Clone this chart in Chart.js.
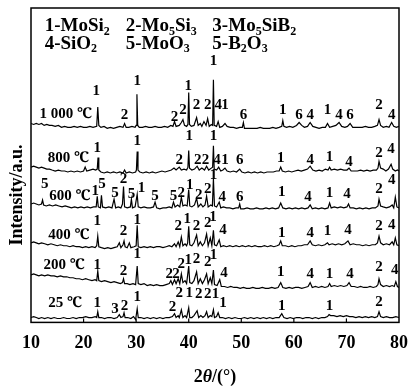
<!DOCTYPE html>
<html>
<head>
<meta charset="utf-8">
<script src="https://cdn.jsdelivr.net/npm/chart.js@4/dist/chart.umd.min.js"></script>
<style>
  html, body { margin: 0; padding: 0; background: #fff; }
  #wrap { width: 418px; height: 389px; }
</style>
</head>
<body>
<div id="wrap"><canvas id="myChart" width="418" height="389"></canvas></div>
<script>
// XRD patterns, intensity in offset a.u. (stacked)
var trace1000 = [[10,205],[10.5,204],[11,205],[11.5,204],[12,205],[12.5,203],[13,204],[13.5,203],[14,203],[14.6,202],[15.2,203],[15.8,201],[16.4,202],[17,201],[17.6,201],[18.2,202],[18.8,201],[19.4,202],[20,201],[20.6,201],[21.2,202],[21.8,201],[22.5,202],[22.7,222],[22.9,203],[23.3,201],[23.9,202],[24.5,200],[25.1,201],[25.7,200],[26.3,201],[26.9,202],[27.5,201],[27.8,205],[28.1,201],[28.6,201],[29.2,202],[29.8,201],[30.0,203],[30.15,235],[30.3,203],[30.6,201],[31.2,201],[31.8,202],[32.4,201],[33,201],[33.6,202],[34.2,201],[34.8,201],[35.4,202],[36,201],[36.6,203],[37,202],[37.3,207],[37.6,202],[38.2,203],[38.6,206],[38.9,209],[39.2,203],[39.6,202],[39.85,204],[40.0,237],[40.15,204],[40.5,202],[41,203],[41.5,211],[41.8,203],[42.2,205],[42.5,202],[42.9,207],[43.3,203],[43.6,210],[43.9,202],[44.3,204],[44.55,203],[44.7,250],[44.85,203],[45.3,202],[45.6,207],[45.9,201],[46.4,202],[46.9,205],[47.3,202],[47.9,201],[48.5,201],[49.1,200],[49.7,201],[50.2,201],[50.4,206],[50.6,200],[51.2,200],[51.8,200],[52.4,200],[53,200],[53.6,201],[54.2,200],[54.8,200],[55.4,200],[56,201],[56.6,200],[57.2,201],[57.7,202],[57.9,208],[58.1,202],[58.6,201],[59.2,202],[59.8,201],[60.5,203],[61,206],[61.5,203],[62,201],[62.6,202],[63.1,206],[63.6,202],[64.2,201],[64.8,200],[65.4,201],[66,201],[66.4,205],[66.8,201],[67.4,202],[68,203],[68.6,206],[69.1,202],[69.7,201],[70.2,202],[70.7,205],[71.2,201],[71.8,201],[72.4,201],[73,201],[73.6,202],[74.2,201],[74.8,201],[75.4,202],[75.9,203],[76.2,209],[76.5,203],[77,201],[77.6,202],[78.1,201],[78.6,206],[79,202],[79.5,201],[80,202]];
var trace800 = [[10,160],[10.5,161],[11,160],[11.5,159],[12,160],[12.5,159],[13,158],[13.5,158],[14,157],[14.6,156],[15.2,157],[15.8,156],[16.4,156],[17,155],[17.6,156],[18.2,155],[18.8,156],[19.4,155],[20,156],[20.3,160],[20.6,156],[21.2,157],[21.8,158],[22.3,157],[22.6,158],[22.75,170],[22.9,157],[23.3,155],[23.9,154],[24.5,155],[25.1,154],[25.7,155],[26.3,154],[26.9,155],[27.5,154],[27.8,157],[28.1,154],[28.7,155],[29.3,154],[29.9,155],[30.05,157],[30.2,176],[30.35,157],[30.7,155],[31.3,154],[31.9,155],[32.5,154],[33.1,155],[33.7,154],[34.3,155],[34.9,156],[35.5,155],[36.1,156],[36.7,157],[37.2,159],[37.6,157],[38.2,160],[38.6,157],[39.1,158],[39.6,157],[39.85,160],[40,177],[40.15,159],[40.6,157],[41.1,158],[41.6,161],[42,157],[42.5,159],[43,157],[43.4,161],[43.8,157],[44.3,159],[44.55,160],[44.7,182],[44.85,158],[45.3,157],[45.7,160],[46.1,156],[46.5,157],[46.9,159],[47.3,156],[47.9,155],[48.5,156],[49.1,155],[49.7,158],[50.1,155],[50.7,154],[51.3,155],[51.9,154],[52.5,155],[53.1,154],[53.7,155],[54.3,154],[54.9,155],[55.5,155],[56.1,155],[56.7,156],[57.2,156],[57.5,160],[57.8,156],[58.4,155],[59,156],[59.6,155],[60.2,156],[60.8,157],[61.4,156],[62,157],[62.6,158],[63.1,161],[63.6,157],[64.2,156],[64.8,157],[65.4,156],[66,158],[66.5,157],[66.8,160],[67.1,157],[67.7,158],[68.3,157],[68.9,158],[69.5,157],[70.1,157],[70.5,159],[70.9,156],[71.5,156],[72.1,156],[72.7,157],[73.3,156],[73.9,157],[74.5,156],[75.1,157],[75.7,157],[76,159],[76.2,166],[76.5,159],[77,158],[77.5,156],[78,158],[78.5,163],[78.8,158],[79.3,156],[79.7,157],[80,156]];
var trace600 = [[10,122],[10.5,123],[11,122],[11.5,121],[12,122],[12.2,126],[12.4,121],[12.9,120],[13.5,121],[14.1,120],[14.7,121],[15.3,120],[15.9,119],[16.5,120],[17.1,119],[17.7,118],[18.3,119],[18.9,118],[19.5,119],[20.1,118],[20.7,119],[21.3,118],[21.9,119],[22.4,119],[22.6,130],[22.8,119],[23.2,118],[23.4,131],[23.6,119],[24.2,118],[24.8,119],[25.4,118],[25.8,127],[26.1,118],[26.6,119],[27.1,118],[27.4,122],[27.6,140],[27.8,119],[28.3,118],[28.9,119],[29.1,127],[29.3,118],[29.8,119],[30.2,132],[30.4,119],[30.9,118],[31.5,119],[32.1,118],[32.7,118],[33.3,119],[33.6,124],[33.9,118],[34.5,117],[35.1,118],[35.7,118],[36.3,119],[36.8,118],[37.1,124],[37.4,119],[37.9,121],[38.3,119],[38.6,129],[38.9,120],[39.3,121],[39.7,120],[40.0,137],[40.2,120],[40.6,119],[41.1,121],[41.5,128],[41.8,119],[42.3,122],[42.7,119],[43.1,121],[43.4,130],[43.7,119],[44.2,121],[44.5,120],[44.7,148],[44.9,120],[45.3,119],[45.8,124],[46.1,118],[46.6,119],[47.2,118],[47.8,118],[48.4,117],[49,118],[49.5,118],[49.7,122],[49.9,117],[50.5,117],[51.1,118],[51.7,117],[52.3,117],[52.9,118],[53.5,117],[54.1,117],[54.7,118],[55.3,117],[55.9,118],[56.5,117],[57.1,118],[57.5,123],[57.9,118],[58.5,117],[59.1,118],[59.7,117],[60.3,118],[60.9,117],[61.5,118],[62.1,117],[62.7,118],[63.1,121],[63.5,117],[64.1,118],[64.7,117],[65.3,118],[65.9,117],[66.5,118],[66.8,123],[67.1,118],[67.7,119],[68.3,118],[68.9,119],[69.5,118],[70.1,119],[70.4,122],[70.7,118],[71.3,118],[71.9,117],[72.5,118],[73.1,117],[73.7,118],[74.3,117],[74.9,118],[75.5,118],[76,120],[76.2,127],[76.5,120],[77,119],[77.6,118],[78.2,119],[78.7,121],[79,118],[79.3,129],[79.6,119],[80,118]];
var trace400 = [[10,82],[10.5,83],[11,82],[11.5,81],[12,82],[12.6,81],[13.2,80],[13.8,81],[14.4,80],[15,79],[15.6,80],[16.2,79],[16.8,79],[17.4,78],[18,79],[18.6,78],[19.2,78],[19.8,77],[20.4,78],[21,77],[21.6,78],[22.2,77],[22.5,79],[22.7,89],[22.9,78],[23.4,77],[24,76],[24.6,77],[25.2,76],[25.8,77],[26.4,78],[26.8,82],[27.1,77],[27.5,80],[27.7,84],[27.9,78],[28.3,77],[28.7,82],[29,77],[29.6,78],[30,79],[30.2,100],[30.4,78],[30.9,77],[31.5,78],[32.1,77],[32.7,78],[33.3,77],[33.9,78],[34.5,78],[35.1,77],[35.7,78],[36.3,79],[36.8,78],[37.3,81],[37.6,78],[38,83],[38.3,78],[38.6,88],[38.9,79],[39.3,81],[39.6,79],[39.8,82],[40.0,99],[40.2,80],[40.6,79],[41,82],[41.5,90],[41.8,79],[42.2,83],[42.6,79],[43,82],[43.4,91],[43.7,79],[44.1,87],[44.4,79],[44.7,95],[44.9,80],[45.3,79],[45.8,85],[46.1,78],[46.6,79],[47.2,78],[47.8,79],[48.4,78],[49,79],[49.6,78],[50.2,79],[50.8,78],[51.4,79],[52,78],[52.6,79],[53.2,78],[53.8,78],[54.4,79],[55,78],[55.6,79],[56.2,78],[56.8,79],[57.2,80],[57.5,84],[57.8,79],[58.4,79],[59,78],[59.6,79],[60.2,78],[60.8,79],[61.4,79],[62,80],[62.6,80],[63.1,84],[63.5,80],[64.1,79],[64.7,80],[65.3,79],[65.9,80],[66.4,82],[66.7,80],[67.3,81],[67.9,80],[68.5,81],[69.1,80],[69.7,81],[70.3,84],[70.7,80],[71.3,81],[71.9,80],[72.5,80],[73.1,79],[73.7,80],[74.3,79],[74.9,80],[75.5,80],[75.9,82],[76.2,89],[76.5,82],[77,80],[77.6,81],[78.2,80],[78.7,83],[79,80],[79.3,87],[79.6,80],[80,79]];
var trace200 = [[10,49],[10.5,50],[11,49],[11.5,48],[12,49],[12.6,48],[13.2,49],[13.8,48],[14.4,48],[15,47],[15.6,48],[16.2,47],[16.8,47],[17.4,46],[18,46],[18.6,45],[19.2,45],[19.8,44],[20.4,45],[21,44],[21.6,43],[22.2,44],[22.5,43],[22.7,53],[22.9,43],[23.4,42],[24,43],[24.6,42],[25.2,41],[25.8,42],[26.4,41],[27,40],[27.4,41],[27.6,45],[27.8,40],[28.3,40],[28.8,39],[29.4,40],[29.9,39],[30.2,58],[30.4,40],[30.9,39],[31.5,40],[32.1,38],[32.7,39],[33.3,38],[33.9,39],[34.5,38],[35.1,38],[35.7,39],[36.3,40],[36.6,43],[36.9,39],[37.3,44],[37.6,40],[38,45],[38.3,40],[38.6,50],[38.9,41],[39.3,43],[39.6,40],[40.0,58],[40.2,41],[40.6,40],[41,43],[41.5,52],[41.8,40],[42.2,45],[42.6,40],[43,44],[43.4,50],[43.7,40],[44.1,46],[44.4,40],[44.7,54],[44.9,39],[45.4,38],[45.9,44],[46.2,37],[46.8,37],[47.4,36],[48,37],[48.6,36],[49.2,36],[49.8,35],[50.4,36],[51,35],[51.6,35],[52.2,36],[52.8,35],[53.4,35],[54,36],[54.6,35],[55.2,35],[55.8,36],[56.4,35],[57,36],[57.5,41],[57.9,36],[58.5,35],[59.1,36],[59.7,35],[60.3,36],[60.9,36],[61.5,35],[62.1,36],[62.7,37],[63.1,41],[63.5,36],[64.1,37],[64.7,36],[65.3,37],[65.9,36],[66.5,37],[66.8,40],[67.1,37],[67.7,38],[68.3,37],[68.9,38],[69.5,37],[70.1,38],[70.5,41],[70.9,37],[71.5,37],[72.1,36],[72.7,37],[73.3,36],[73.9,36],[74.5,37],[75.1,36],[75.7,37],[76,39],[76.2,45],[76.5,39],[77,37],[77.6,38],[78.2,37],[78.7,38],[79.1,37],[79.4,42],[79.7,37],[80,36]];
var trace25 = [[10,5],[10.5,6],[11,5],[11.5,4],[12,5],[12.6,4],[13.2,5],[13.8,4],[14.4,5],[15,4],[15.6,4],[16.2,5],[16.8,4],[17.4,4],[18,5],[18.6,4],[19.2,5],[19.8,5],[20.4,6],[21,5],[21.6,5],[22.2,6],[22.5,5],[22.7,11],[22.9,5],[23.4,5],[24,4],[24.6,5],[25.2,5],[25.8,4],[26.4,5],[26.8,8],[27.1,5],[27.5,6],[27.7,10],[27.9,5],[28.4,5],[29,4],[29.5,6],[29.9,3],[30.2,14],[30.4,5],[30.9,5],[31.5,4],[32.1,5],[32.7,4],[33.3,5],[33.9,4],[34.5,5],[35.1,4],[35.7,5],[36.3,5],[36.9,6],[37.3,9],[37.6,5],[38,7],[38.2,5],[38.6,13],[38.9,5],[39.3,7],[39.6,5],[40.0,15],[40.2,5],[40.6,5],[41,7],[41.6,12],[41.9,5],[42.3,7],[42.7,5],[43.1,7],[43.4,11],[43.7,5],[44.1,7],[44.4,6],[44.7,13],[44.9,5],[45.3,6],[45.6,10],[45.9,5],[46.4,5],[47,4],[47.6,5],[48.2,4],[48.8,5],[49.4,4],[50,4],[50.6,5],[51.2,4],[51.8,5],[52.4,4],[53,5],[53.6,4],[54.2,5],[54.8,4],[55.4,5],[56,4],[56.6,5],[57.2,5],[57.7,9],[58.1,5],[58.7,4],[59.3,5],[59.9,4],[60.5,5],[61.1,5],[61.7,4],[62.3,5],[62.9,5],[63.5,4],[64.1,5],[64.7,4],[65.3,5],[65.9,5],[66.4,6],[66.7,8],[67,7],[67.6,7],[68.2,6],[68.8,7],[69.4,6],[70,7],[70.6,6],[71.2,6],[71.8,5],[72.4,6],[73,5],[73.6,6],[74.2,5],[74.8,6],[75.4,5],[75.9,6],[76.2,11],[76.5,6],[77,5],[77.6,6],[78.2,5],[78.8,5],[79.4,6],[80,5]];

var xTicks = [10, 20, 30, 40, 50, 60, 70, 80];
var tempNames = ["1 000 \u2103", "800 \u2103", "600 \u2103", "400 \u2103", "200 \u2103", "25 \u2103"];
var phaseNames = ["1-MoSi_2", "2-Mo_5Si_3", "3-Mo_5SiB_2", "4-SiO_2", "5-MoO_3", "5-B_2O_3"];

// peak marks: [text, 2theta, intensity]
var marks1000 = [["1",22.4,238],["2",27.8,214],["1",30.2,249],["2",37.3,212],["2",38.9,219],["1",39.9,244],["2",41.5,224],["2",43.6,224],["1",44.7,269],["4",45.6,224],["1",46.9,224],["6",50.4,214],["1",57.9,219],["6",61.0,214],["4",63.1,214],["1",66.4,219],["4",68.6,214],["6",70.7,214],["2",76.2,224],["4",78.6,214]];
var marks800 = [["1",22.6,180],["1",30.2,187],["2",38.2,167],["1",40.1,192],["2",41.7,167],["2",43.2,167],["1",44.7,192],["4",45.4,167],["1",46.9,167],["6",49.7,167],["1",57.5,169],["4",63.1,167],["1",66.8,170],["4",70.5,165],["2",76.2,174],["4",78.5,179]];
var marks600 = [["5",12.6,142],["1",22.2,135],["5",23.5,142],["5",26.0,133],["2",27.6,148],["5",29.1,132],["1",31.0,138],["5",33.6,130],["5",37.1,130],["2",38.6,133],["1",40.2,141],["2",41.9,131],["2",43.6,137],["1",44.7,152],["4",46.4,129],["6",49.7,129],["1",57.7,134],["4",62.7,129],["1",66.8,133],["4",70.1,132],["2",76.2,137],["4",78.6,147]];
var marks400 = [["1",22.6,104],["2",27.6,94],["1",30.2,105],["2",38.0,99],["1",39.7,106],["2",41.5,99],["2",43.6,102],["1",44.6,108],["4",46.5,95],["1",57.7,92],["4",63.1,92],["1",66.4,94],["4",70.3,95],["2",76.2,99],["4",78.6,100]];
var marks200 = [["1",22.6,59],["2",27.6,53],["1",30.2,70],["2",36.3,50],["2",37.6,50],["2",38.6,60],["1",39.9,64],["2",41.5,65],["2",43.6,62],["1",44.7,69],["4",46.7,51],["1",57.5,52],["4",63.1,50],["1",66.8,50],["4",70.7,50],["2",76.2,57],["4",79.2,54]];
var marks25 = [["1",22.6,20],["3",26.0,14],["2",27.8,17],["1",30.2,26],["2",36.9,16],["2",38.2,30],["1",40.1,30],["2",41.9,29],["2",43.6,29],["1",45.1,29],["1",46.5,20],["1",57.7,17],["1",66.8,17],["2",76.2,21]];

var traces = [trace1000, trace800, trace600, trace400, trace200, trace25];
var allMarks = [marks1000, marks800, marks600, marks400, marks200, marks25];
// where the temperature / phase texts sit, in data units
var tempAt = [[16.6,215],[17.1,169],[17.4,130],[17.2,90],[16.3,59],[16.5,20]];
var phaseAt = [[12.6,305],[28.0,305],[44.5,305],[12.6,287],[28.0,287],[44.5,287]];

var SERIF = "'Times New Roman', 'Liberation Serif', 'Noto Serif', serif";

function richText(ctx, str, x, y, size) {
  // "_d" means subscript digit
  var parts = str.split("_");
  var cx = x;
  for (var i = 0; i < parts.length; i++) {
    var s = parts[i];
    if (i > 0) {
      var sub = s.charAt(0);
      ctx.font = "bold " + Math.round(size * 0.62) + "px " + SERIF;
      ctx.fillText(sub, cx, y + size * 0.28);
      cx += ctx.measureText(sub).width;
      s = s.slice(1);
    }
    ctx.font = "bold " + size + "px " + SERIF;
    ctx.fillText(s, cx, y);
    cx += ctx.measureText(s).width;
  }
}

var decor = {
  id: "decor",
  afterDraw: function (chart) {
    var ctx = chart.ctx;
    var a = chart.chartArea;
    var xs = chart.scales.x, ys = chart.scales.y;
    ctx.save();
    ctx.strokeStyle = "#000";
    ctx.fillStyle = "#000";
    ctx.lineWidth = 1.5;
    ctx.strokeRect(a.left, a.top, a.right - a.left, a.bottom - a.top);
    // inward ticks
    ctx.lineWidth = 1.2;
    for (var i = 1; i < xTicks.length - 1; i++) {
      var px = xs.getPixelForValue(xTicks[i]);
      ctx.beginPath();
      ctx.moveTo(px, a.bottom);
      ctx.lineTo(px, a.bottom - 4);
      ctx.stroke();
    }
    ctx.textBaseline = "middle";
    // phase legend
    ctx.textAlign = "left";
    for (var j = 0; j < phaseNames.length; j++) {
      richText(ctx, phaseNames[j], xs.getPixelForValue(phaseAt[j][0]), ys.getPixelForValue(phaseAt[j][1]), 19);
    }
    // temperatures
    ctx.textAlign = "center";
    ctx.font = "bold 15px " + SERIF;
    for (var k = 0; k < tempNames.length; k++) {
      ctx.fillText(tempNames[k], xs.getPixelForValue(tempAt[k][0]), ys.getPixelForValue(tempAt[k][1]));
    }
    // peak numbers
    ctx.font = "bold 15px " + SERIF;
    allMarks.forEach(function (list) {
      list.forEach(function (m) {
        ctx.fillText(m[0], xs.getPixelForValue(m[1]), ys.getPixelForValue(m[2]));
      });
    });
    // axis titles
    ctx.font = "bold 18px " + SERIF;
    ctx.save();
    ctx.translate(17, 195);
    ctx.rotate(-Math.PI / 2);
    ctx.fillText("Intensity/a.u.", 0, 0);
    ctx.restore();
    var cxm = (a.left + a.right) / 2;
    var y0 = 377;
    var p1 = "2", p2 = "\u03b8", p3 = "/(\u00b0)";
    ctx.font = "bold 18px " + SERIF;
    var w1 = ctx.measureText(p1).width, w3 = ctx.measureText(p3).width;
    ctx.font = "italic bold 18px " + SERIF;
    var w2 = ctx.measureText(p2).width;
    var sx = cxm - (w1 + w2 + w3) / 2;
    ctx.textAlign = "left";
    ctx.font = "bold 18px " + SERIF;
    ctx.fillText(p1, sx, y0);
    ctx.font = "italic bold 18px " + SERIF;
    ctx.fillText(p2, sx + w1, y0);
    ctx.font = "bold 18px " + SERIF;
    ctx.fillText(p3, sx + w1 + w2, y0);
    ctx.restore();
  }
};

var datasets = traces.map(function (t) {
  return {
    data: t.map(function (p) { return { x: p[0], y: p[1] }; }),
    borderColor: "#000",
    borderWidth: 1.2,
    pointRadius: 0,
    tension: 0,
    fill: false
  };
});

var ctx = document.getElementById("myChart").getContext("2d");
var myChart = new Chart(ctx, {
  type: "line",
  data: { datasets: datasets },
  options: {
    responsive: false,
    animation: false,
    devicePixelRatio: 1,
    layout: { padding: { left: 31, right: 10, top: 8, bottom: 25 } },
    plugins: { legend: { display: false }, tooltip: { enabled: false } },
    scales: {
      x: {
        type: "linear",
        min: 10,
        max: 80,
        grid: { display: false, drawTicks: false },
        border: { display: false },
        ticks: {
          stepSize: 10,
          padding: 10,
          color: "#000",
          font: { family: SERIF, size: 18, weight: "bold" }
        }
      },
      y: {
        display: false,
        min: 0,
        max: 324
      }
    }
  },
  plugins: [decor]
});
</script>
</body>
</html>
